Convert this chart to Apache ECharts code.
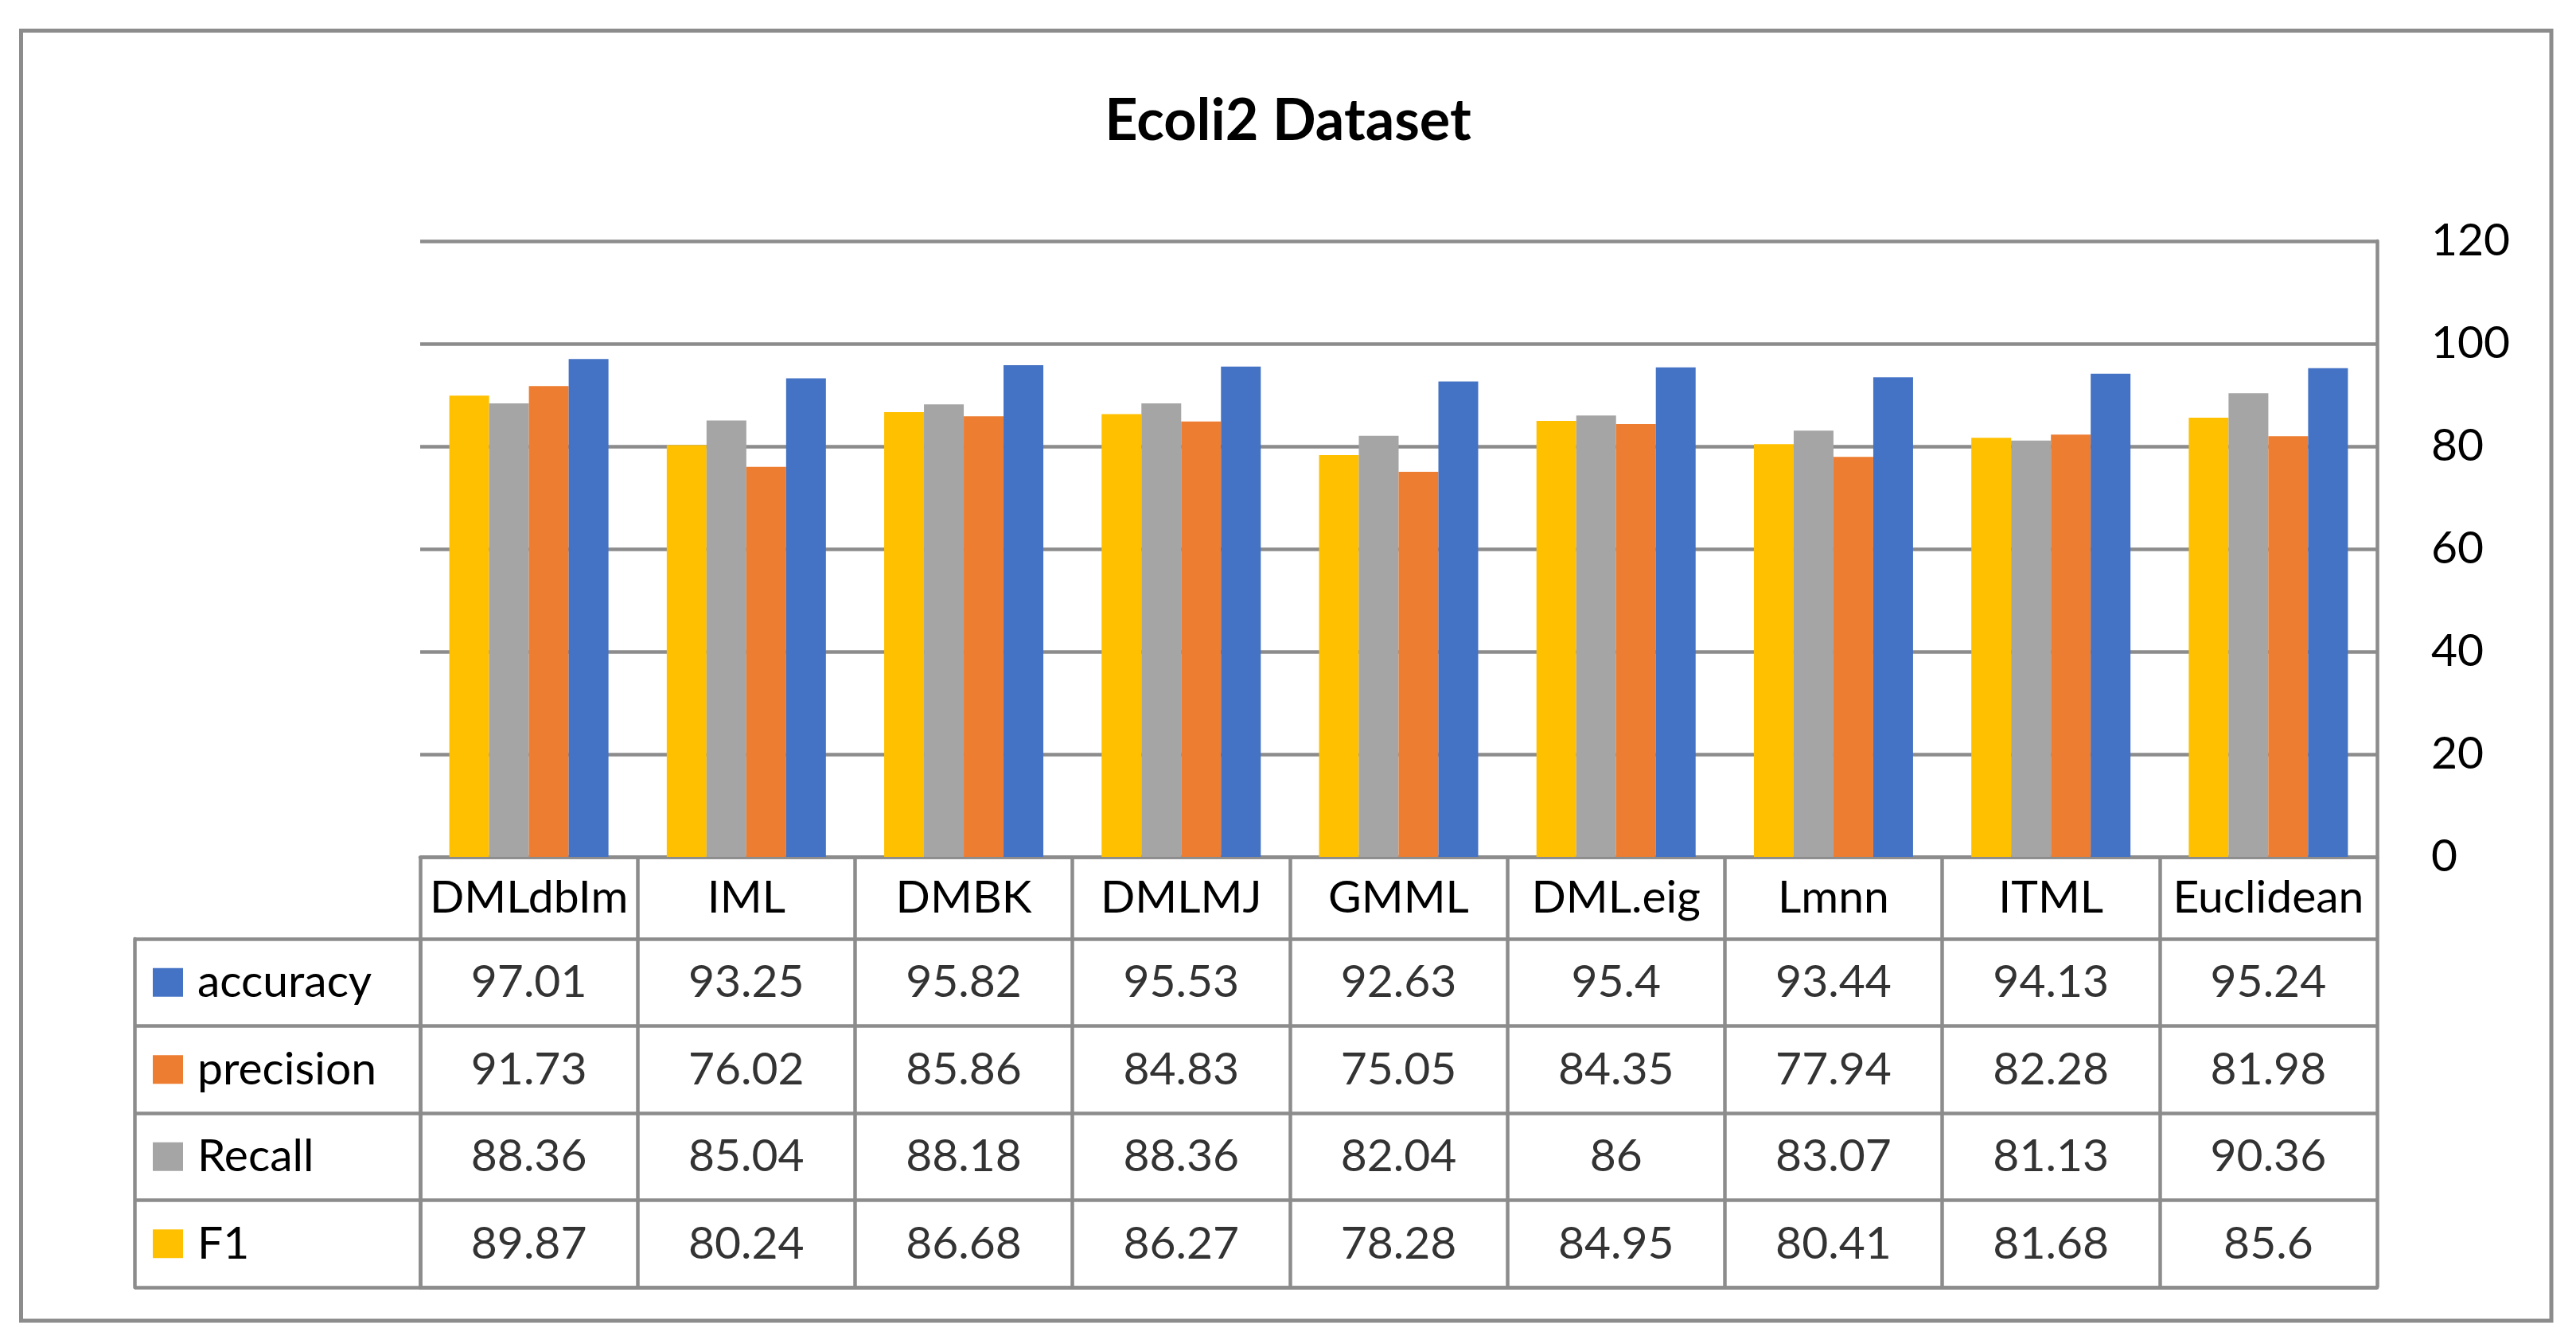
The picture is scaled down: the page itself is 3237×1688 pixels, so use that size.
<!DOCTYPE html>
<html>
<head>
<meta charset="utf-8">
<script src="https://cdn.jsdelivr.net/npm/echarts@6/dist/echarts.min.js"></script>
<style>
html,body{margin:0;padding:0;background:#fff;}
#chart{width:3237px;height:1688px;}
</style>
</head>
<body>
<div id="chart"></div>
<script>
const categories = ['DMLdbIm','IML','DMBK','DMLMJ','GMML','DML.eig','Lmnn','ITML','Euclidean'];
const accuracy  = [97.01, 93.25, 95.82, 95.53, 92.63, 95.4, 93.44, 94.13, 95.24];
const precision = [91.73, 76.02, 85.86, 84.83, 75.05, 84.35, 77.94, 82.28, 81.98];
const recall    = [88.36, 85.04, 88.18, 88.36, 82.04, 86, 83.07, 81.13, 90.36];
const f1        = [89.87, 80.24, 86.68, 86.27, 78.28, 84.95, 80.41, 81.68, 85.6];
const yTicks = [0, 20, 40, 60, 80, 100, 120];

const colors = {accuracy:'#4472C4', precision:'#ED7D31', Recall:'#A5A5A5', F1:'#FFC000'};
const rowNames = ['accuracy','precision','Recall','F1'];
const rowData = [accuracy, precision, recall, f1];
const barOrder = [['F1', f1], ['Recall', recall], ['precision', precision], ['accuracy', accuracy]];

const GRAY = '#8c8c8c';
const LW = 4.5;
const FONT = 'Lato';

const tableData = [];
rowData.forEach((arr, r) => arr.forEach((v, c) => tableData.push([c, r, v])));

const rich = {t: {fontFamily: FONT, fontSize: 57, color: '#000', padding: [0,0,0,18]}};
rowNames.forEach((n, i) => {
  rich['s' + i] = {width: 38, height: 36, backgroundColor: colors[n]};
});

const chart = echarts.init(document.getElementById('chart'), null, {renderer: 'canvas'});
chart.setOption({
  animation: false,
  backgroundColor: '#fff',
  title: {
    text: 'Ecoli2 Dataset',
    left: 'center',
    top: 112,
    textStyle: {fontFamily: FONT, fontWeight: 'bold', fontSize: 72, color: '#000', lineHeight: 72}
  },
  graphic: [{
    type: 'rect',
    shape: {x: 26.5, y: 38.5, width: 3179.5, height: 1621.5},
    style: {fill: 'none', stroke: GRAY, lineWidth: 5},
    silent: true
  }],
  grid: [
    {left: 528, right: 250, top: 303, bottom: 611},
    {left: 528, right: 250, top: 1180, bottom: 70}
  ],
  xAxis: [
    {
      type: 'category', gridIndex: 0, data: categories,
      axisLine: {show: true, lineStyle: {color: GRAY, width: LW}},
      axisTick: {show: true, interval: 0, length: 103, lineStyle: {color: GRAY, width: LW}},
      axisLabel: {interval: 0, margin: 23, fontFamily: FONT, fontSize: 57, color: '#000', lineHeight: 57},
      splitLine: {show: false}
    },
    {
      type: 'category', gridIndex: 1, data: categories,
      axisLine: {show: true, lineStyle: {color: GRAY, width: LW}},
      axisTick: {show: false},
      axisLabel: {show: false},
      splitLine: {show: true, interval: 0, lineStyle: {color: GRAY, width: LW}}
    }
  ],
  yAxis: [
    {
      type: 'value', gridIndex: 0, position: 'right', min: 0, max: 120, interval: 20,
      axisLine: {show: true, lineStyle: {color: GRAY, width: LW}},
      axisTick: {show: false},
      axisLabel: {margin: 68, fontFamily: FONT, fontSize: 57, color: '#000',
        formatter: v => yTicks.includes(v) ? String(v) : ''},
      splitLine: {show: true, lineStyle: {color: GRAY, width: LW}}
    },
    {
      type: 'category', gridIndex: 1, data: rowNames, inverse: true, position: 'left',
      axisLine: {show: true, lineStyle: {color: GRAY, width: LW}},
      axisTick: {show: true, interval: 0, length: 359, lineStyle: {color: GRAY, width: LW}},
      axisLabel: {interval: 0, margin: 336, align: 'left', rich: rich,
        formatter: (v, i) => '{s' + i + '|}{t|' + v + '}'},
      splitLine: {show: true, interval: 0, lineStyle: {color: GRAY, width: LW}}
    },
    {
      type: 'category', gridIndex: 1, data: rowNames, inverse: true, position: 'left', offset: 359,
      axisLine: {show: true, lineStyle: {color: GRAY, width: LW}},
      axisTick: {show: false}, axisLabel: {show: false}, splitLine: {show: false}
    }
  ],
  series: barOrder.map(([name, arr]) => ({
    name: name, type: 'bar', xAxisIndex: 0, yAxisIndex: 0,
    data: arr, barWidth: '18.3%', barGap: '0%',
    itemStyle: {color: colors[name]}
  })).concat([{
    type: 'scatter', xAxisIndex: 1, yAxisIndex: 1,
    data: tableData, symbolSize: 1,
    itemStyle: {color: 'rgba(0,0,0,0)'},
    label: {show: true, position: 'inside', formatter: p => String(p.value[2]),
      fontFamily: FONT, fontSize: 57, color: '#000'},
    silent: true
  }])
});
</script>
</body>
</html>
